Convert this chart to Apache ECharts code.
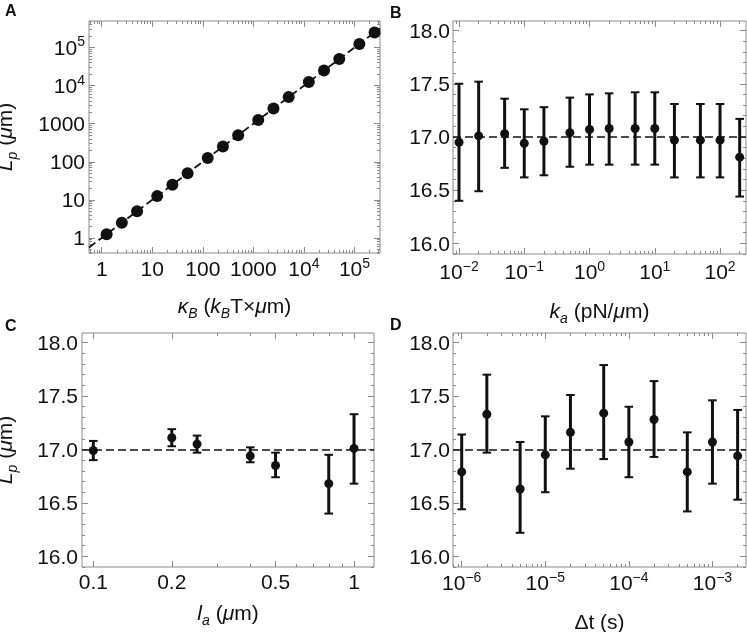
<!DOCTYPE html>
<html><head><meta charset="utf-8">
<script src="https://cdn.jsdelivr.net/npm/echarts@6/dist/echarts.min.js"></script>
<style>html,body{margin:0;padding:0;background:#fff}#c{width:747px;height:632px}</style>
</head><body><div id="c"></div>
<script>
// ---------- Panel A ----------
const kappaB = [1.25,2.5,5,12.5,25,50,125,250,500,1250,2500,5000,12500,25000,50000,125000,250000];
const LpA    = [1.25,2.5,5,12.5,25,50,125,250,500,1250,2500,5000,12500,25000,50000,125000,250000];
const fitA_x = [0.56, 320000];
const fitA_y = [0.56, 320000];
const ticksA_x = [1,10,100,1000,1e4,1e5];
const ticksA_y = [1,10,100,1000,1e4,1e5];
// ---------- Panel B ----------
const ka    = [0.01,0.02,0.05,0.1,0.2,0.5,1,2,5,10,20,50,100,200];
const LpB   = [16.95,17.01,17.03,16.94,16.96,17.04,17.07,17.08,17.08,17.08,16.97,16.97,16.97,16.81];
const LpB_hi= [17.50,17.52,17.36,17.26,17.28,17.37,17.40,17.41,17.42,17.42,17.31,17.31,17.31,17.17];
const LpB_lo= [16.40,16.49,16.71,16.62,16.64,16.72,16.74,16.74,16.74,16.74,16.62,16.62,16.62,16.44];
const ticksB_x = [0.01,0.1,1,10,100];
// ---------- Panel C ----------
const la    = [0.1,0.2,0.25,0.4,0.5,0.8,1.0];
const LpC   = [16.99,17.11,17.05,16.94,16.85,16.68,17.01];
const LpC_hi= [17.08,17.19,17.13,17.02,16.97,16.95,17.33];
const LpC_lo= [16.90,17.03,16.97,16.88,16.74,16.40,16.68];
const ticksC_x = [0.1,0.2,0.5,1];
// ---------- Panel D ----------
const dt    = [1e-6,2e-6,5e-6,1e-5,2e-5,5e-5,1e-4,2e-4,5e-4,1e-3,2e-3];
const LpD   = [16.79,17.33,16.63,16.95,17.16,17.34,17.07,17.28,16.79,17.07,16.94];
const LpD_hi= [17.14,17.70,17.07,17.31,17.51,17.79,17.40,17.64,17.16,17.46,17.37];
const LpD_lo= [16.44,16.97,16.22,16.60,16.82,16.91,16.74,16.93,16.42,16.68,16.53];
const ticksD_x = [1e-6,1e-5,1e-4,1e-3];
// shared
const ticksLp = [16.0,16.5,17.0,17.5,18.0];
const refLp = 17.0;

const FONT = '"Liberation Sans", Arial, Helvetica, sans-serif';
const GRAY = '#8a8a8a';
const INK = '#111';

function logMinors(min, max, majors) {
  const out = [];
  for (let d = Math.floor(Math.log10(min)) - 1; d <= Math.ceil(Math.log10(max)); d++) {
    for (let m = 1; m <= 9; m++) {
      const v = +(m * Math.pow(10, d)).toPrecision(6);
      if (v >= min && v <= max && !majors.some(t => Math.abs(t - v) / v < 1e-6)) out.push(v);
    }
  }
  return out;
}
function linMinors(min, max, step, majors) {
  const out = [];
  for (let k = Math.ceil(min / step - 1e-9); k * step <= max + 1e-9; k++) {
    const v = +(k * step).toFixed(4);
    if (!majors.some(t => Math.abs(t - v) < 1e-6)) out.push(v);
  }
  return out;
}

const richLabel = {
  b: { fontSize: 21, lineHeight: 24, fontFamily: FONT, color: INK, verticalAlign: 'bottom' },
  sup: { fontSize: 14, lineHeight: 14, fontFamily: FONT, color: INK, verticalAlign: 'top' }
};
const richName = {
  n: { fontSize: 21, lineHeight: 28, fontFamily: FONT, color: INK },
  i: { fontSize: 21, lineHeight: 28, fontFamily: FONT, color: INK, fontStyle: 'italic' },
  is: { fontSize: 14, lineHeight: 14, fontFamily: FONT, color: INK, fontStyle: 'italic', verticalAlign: 'bottom' }
};
function fmtPow(v) {
  const e = Math.round(Math.log10(v));
  return '{b|10}{sup|' + String(e).replace('-', '\u2212') + '}';
}
function fmtPowMixed(v) {
  const e = Math.round(Math.log10(v));
  if (e >= 4) return fmtPow(v);
  return '{b|' + String(Math.pow(10, e)) + '}';
}
function fmtPlain(v) { return '{b|' + (+v.toPrecision(6)) + '}'; }
function fmtLp(v) { return '{b|' + v.toFixed(1) + '}'; }

const xAxes = [], yAxes = [];
function axisSet(list, dim, grid, type, min, max, majors, minors, fmt, name, nameGap, margin) {
  const mainPos = dim === 'x' ? 'bottom' : 'left';
  const mirPos = dim === 'x' ? 'top' : 'right';
  const common = {
    gridIndex: grid, type, min, max,
    axisLine: { show: false, onZero: false },
    splitLine: { show: false }, minorTick: { show: false }, minorSplitLine: { show: false }
  };
  const tickMajor = { show: true, inside: true, length: 6, customValues: majors, lineStyle: { color: GRAY, width: 1 } };
  const tickMinor = { show: true, inside: true, length: 3, customValues: minors, lineStyle: { color: GRAY, width: 1 } };
  list.push(Object.assign({}, common, {
    position: mainPos,
    name: name || '', nameLocation: 'middle', nameGap: nameGap || 0, nameRotate: dim === 'y' ? 90 : 0,
    nameMoveOverlap: false,
    nameTextStyle: { rich: richName, fontFamily: FONT, fontSize: 21, color: INK },
    axisLabel: { show: true, customValues: majors, formatter: fmt, margin: margin, rich: richLabel,
      fontFamily: FONT, fontSize: 21, color: INK, showMinLabel: true, showMaxLabel: true, hideOverlap: false },
    axisTick: tickMajor
  }));
  const main = list.length - 1;
  list.push(Object.assign({}, common, { position: mainPos, axisLabel: { show: false }, axisTick: tickMinor }));
  list.push(Object.assign({}, common, { position: mirPos, axisLabel: { show: false }, axisTick: tickMajor }));
  list.push(Object.assign({}, common, { position: mirPos, axisLabel: { show: false }, axisTick: tickMinor }));
  return main;
}

const grids = [
  { left: 89, top: 21, width: 291, height: 232 },
  { left: 453, top: 21, width: 293, height: 233 },
  { left: 82, top: 333, width: 292, height: 234 },
  { left: 453, top: 333, width: 293, height: 234 }
].map(g => Object.assign(g, { show: true, borderColor: GRAY, borderWidth: 1, backgroundColor: 'transparent', containLabel: false, outerBoundsMode: 'none' }));

const LPMIN = 15.9, LPMAX = 18.09;
const lpMinors = linMinors(LPMIN, LPMAX, 0.1, ticksLp);

// Panel A axes
const AxMin = 0.56, AxMax = 320000, AyMin = 0.40, AyMax = 500000;
const xA = axisSet(xAxes, 'x', 0, 'log', AxMin, AxMax, ticksA_x, logMinors(AxMin, AxMax, ticksA_x), fmtPowMixed,
  '{i|κ}{is|B}{n| (}{i|k}{is|B}{n|T×}{i|μ}{n|m)}', 40, 4);
const yA = axisSet(yAxes, 'y', 0, 'log', AyMin, AyMax, ticksA_y, logMinors(AyMin, AyMax, ticksA_y), fmtPowMixed,
  '{i|L}{is|p}{n| (}{i|μ}{n|m)}', 69, 4);
// Panel B axes
const BxMin = 0.00809, BxMax = 250;
const xB = axisSet(xAxes, 'x', 1, 'log', BxMin, BxMax, ticksB_x, logMinors(BxMin, BxMax, ticksB_x), fmtPow,
  '{i|k}{is|a}{n| (pN/}{i|μ}{n|m)}', 44, 6);
const yB = axisSet(yAxes, 'y', 1, 'value', LPMIN, LPMAX, ticksLp, lpMinors, fmtLp, '', 0, 3);
// Panel C axes
const CxMin = 0.0905, CxMax = 1.193;
const xC = axisSet(xAxes, 'x', 2, 'log', CxMin, CxMax, ticksC_x, logMinors(CxMin, CxMax, ticksC_x), fmtPlain,
  '{i|l}{is|a}{n| (}{i|μ}{n|m)}', 33, 3);
const yC = axisSet(yAxes, 'y', 2, 'value', LPMIN, LPMAX, ticksLp, lpMinors, fmtLp,
  '{i|L}{is|p}{n| (}{i|μ}{n|m)}', 62, 4);
// Panel D axes
const DxMin = 7.87e-7, DxMax = 2.52e-3;
const xD = axisSet(xAxes, 'x', 3, 'log', DxMin, DxMax, ticksD_x, logMinors(DxMin, DxMax, ticksD_x), fmtPow,
  '{n|Δt (s)}', 42, 4);
const yD = axisSet(yAxes, 'y', 3, 'value', LPMIN, LPMAX, ticksLp, lpMinors, fmtLp, '', 0, 3);

function zip(a, b) { return a.map((v, i) => [v, b[i]]); }

function errorBars(xi, yi, xs, lo, hi) {
  return {
    type: 'custom', xAxisIndex: xi, yAxisIndex: yi, z: 3, silent: true,
    data: xs.map((x, i) => [x, lo[i], hi[i]]),
    encode: { x: 0, y: [1, 2] },
    renderItem(params, api) {
      const p1 = api.coord([api.value(0), api.value(2)]);
      const p0 = api.coord([api.value(0), api.value(1)]);
      const w = 4.3;
      const st = { stroke: INK, lineWidth: 3 };
      const cs = { stroke: INK, lineWidth: 2 };
      return { type: 'group', children: [
        { type: 'line', shape: { x1: p1[0], y1: p1[1], x2: p0[0], y2: p0[1] }, style: st },
        { type: 'line', shape: { x1: p1[0] - w, y1: p1[1], x2: p1[0] + w, y2: p1[1] }, style: cs },
        { type: 'line', shape: { x1: p0[0] - w, y1: p0[1], x2: p0[0] + w, y2: p0[1] }, style: cs }
      ]};
    }
  };
}
function dots(xi, yi, xs, ys, size) {
  return { type: 'scatter', xAxisIndex: xi, yAxisIndex: yi, z: 4, symbol: 'circle', symbolSize: size,
    itemStyle: { color: INK, opacity: 1 }, data: zip(xs, ys), silent: true };
}
function refLine(xi, yi) {
  return { type: 'line', xAxisIndex: xi, yAxisIndex: yi, data: [], z: 2,
    markLine: { silent: true, symbol: ['none', 'none'], label: { show: false },
      lineStyle: { color: INK, width: 1.6, type: [8, 4] }, data: [{ yAxis: refLp }] } };
}

const series = [
  { type: 'line', xAxisIndex: xA, yAxisIndex: yA, data: zip(fitA_x, fitA_y), showSymbol: false, z: 2, silent: true,
    lineStyle: { color: INK, width: 1.8, type: [8, 4] } },
  dots(xA, yA, kappaB, LpA, 12),
  refLine(xB, yB), errorBars(xB, yB, ka, LpB_lo, LpB_hi), dots(xB, yB, ka, LpB, 9),
  refLine(xC, yC), errorBars(xC, yC, la, LpC_lo, LpC_hi), dots(xC, yC, la, LpC, 9),
  refLine(xD, yD), errorBars(xD, yD, dt, LpD_lo, LpD_hi), dots(xD, yD, dt, LpD, 9)
];

function letter(t, x, y) {
  return { type: 'text', left: x, top: y, style: { text: t, fontFamily: FONT, fontWeight: 'bold', fontSize: 16, fill: INK } };
}

const chart = echarts.init(document.getElementById('c'), null, { renderer: 'canvas' });
chart.setOption({
  animation: false,
  backgroundColor: '#fff',
  grid: grids,
  xAxis: xAxes,
  yAxis: yAxes,
  series: series,
  graphic: [letter('A', 5, 4), letter('B', 390, 6), letter('C', 5, 319), letter('D', 390, 318)]
});
</script>
</body></html>
